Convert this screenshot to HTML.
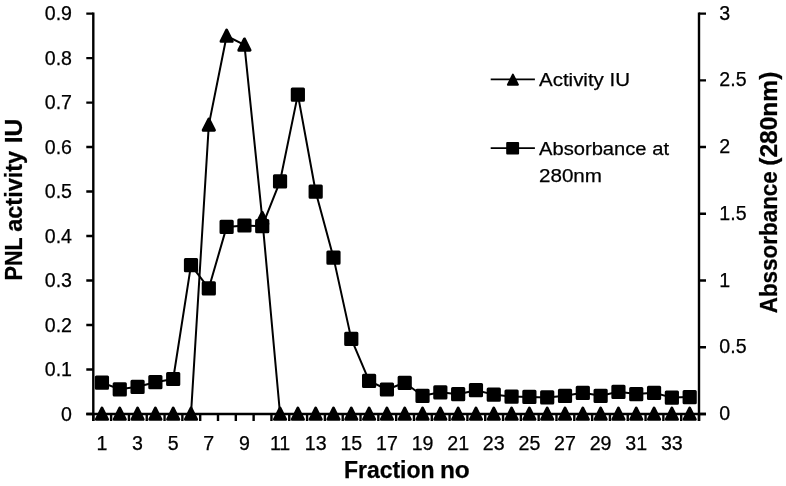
<!DOCTYPE html>
<html lang="en"><head><meta charset="utf-8"><title>Fraction elution profile</title>
<style>html,body{margin:0;padding:0;background:#fff;}body{width:786px;height:486px;overflow:hidden;}svg{display:block;}text{font-family:"Liberation Sans",Arial,sans-serif;fill:#000;stroke:#000;stroke-width:0.25px;}</style></head><body>
<svg width="786" height="486" viewBox="0 0 786 486">
<rect width="786" height="486" fill="#fff"/>
<g stroke="#000" stroke-width="2.4" fill="none" stroke-linecap="butt">
<path d="M93.3 12.4 V421.0"/>
<path d="M699.00 12.4 V421.0"/>
<path d="M86.3 414.0 H706.00"/>
<path d="M86.3 13.60H93.3M86.3 58.09H93.3M86.3 102.58H93.3M86.3 147.07H93.3M86.3 191.56H93.3M86.3 236.04H93.3M86.3 280.53H93.3M86.3 325.02H93.3M86.3 369.51H93.3M86.3 414.00H93.3M699.00 13.60H706.00M699.00 80.33H706.00M699.00 147.07H706.00M699.00 213.80H706.00M699.00 280.53H706.00M699.00 347.27H706.00M699.00 414.00H706.00M93.30 414.0V421.0M111.11 414.0V421.0M128.93 414.0V421.0M146.74 414.0V421.0M164.56 414.0V421.0M182.37 414.0V421.0M200.19 414.0V421.0M218.00 414.0V421.0M235.82 414.0V421.0M253.63 414.0V421.0M271.45 414.0V421.0M289.26 414.0V421.0M307.08 414.0V421.0M324.89 414.0V421.0M342.71 414.0V421.0M360.52 414.0V421.0M378.34 414.0V421.0M396.15 414.0V421.0M413.96 414.0V421.0M431.78 414.0V421.0M449.59 414.0V421.0M467.41 414.0V421.0M485.22 414.0V421.0M503.04 414.0V421.0M520.85 414.0V421.0M538.67 414.0V421.0M556.48 414.0V421.0M574.30 414.0V421.0M592.11 414.0V421.0M609.93 414.0V421.0M627.74 414.0V421.0M645.56 414.0V421.0M663.37 414.0V421.0M681.19 414.0V421.0M699.00 414.0V421.0"/>
</g>
<polyline points="101.95,414.00 119.76,414.00 137.57,414.00 155.38,414.00 173.19,414.00 191.00,414.00 208.81,124.90 226.62,36.00 244.43,44.80 262.24,218.30 280.05,414.00 297.86,414.00 315.67,414.00 333.48,414.00 351.29,414.00 369.10,414.00 386.91,414.00 404.72,414.00 422.53,414.00 440.34,414.00 458.15,414.00 475.96,414.00 493.77,414.00 511.58,414.00 529.39,414.00 547.20,414.00 565.01,414.00 582.82,414.00 600.63,414.00 618.44,414.00 636.25,414.00 654.06,414.00 671.87,414.00 689.68,414.00" fill="none" stroke="#000" stroke-width="2.0" stroke-linejoin="round"/>
<polyline points="101.95,382.60 119.76,389.30 137.57,386.80 155.38,382.20 173.19,379.00 191.00,265.10 208.81,288.30 226.62,226.90 244.43,225.50 262.24,226.10 280.05,181.30 297.86,94.60 315.67,191.70 333.48,257.60 351.29,338.90 369.10,380.80 386.91,389.50 404.72,382.80 422.53,395.80 440.34,392.30 458.15,394.20 475.96,390.20 493.77,394.60 511.58,396.60 529.39,396.90 547.20,397.40 565.01,395.80 582.82,392.80 600.63,395.80 618.44,391.80 636.25,394.10 654.06,392.80 671.87,397.60 689.68,397.10" fill="none" stroke="#000" stroke-width="2.0" stroke-linejoin="round"/>
<g fill="#000" stroke="#000" stroke-width="3" stroke-linejoin="round">
<rect x="96.35" y="377.00" width="11.2" height="11.2"/>
<rect x="114.16" y="383.70" width="11.2" height="11.2"/>
<rect x="131.97" y="381.20" width="11.2" height="11.2"/>
<rect x="149.78" y="376.60" width="11.2" height="11.2"/>
<rect x="167.59" y="373.40" width="11.2" height="11.2"/>
<rect x="185.40" y="259.50" width="11.2" height="11.2"/>
<rect x="203.21" y="282.70" width="11.2" height="11.2"/>
<rect x="221.02" y="221.30" width="11.2" height="11.2"/>
<rect x="238.83" y="219.90" width="11.2" height="11.2"/>
<rect x="256.64" y="220.50" width="11.2" height="11.2"/>
<rect x="274.45" y="175.70" width="11.2" height="11.2"/>
<rect x="292.26" y="89.00" width="11.2" height="11.2"/>
<rect x="310.07" y="186.10" width="11.2" height="11.2"/>
<rect x="327.88" y="252.00" width="11.2" height="11.2"/>
<rect x="345.69" y="333.30" width="11.2" height="11.2"/>
<rect x="363.50" y="375.20" width="11.2" height="11.2"/>
<rect x="381.31" y="383.90" width="11.2" height="11.2"/>
<rect x="399.12" y="377.20" width="11.2" height="11.2"/>
<rect x="416.93" y="390.20" width="11.2" height="11.2"/>
<rect x="434.74" y="386.70" width="11.2" height="11.2"/>
<rect x="452.55" y="388.60" width="11.2" height="11.2"/>
<rect x="470.36" y="384.60" width="11.2" height="11.2"/>
<rect x="488.17" y="389.00" width="11.2" height="11.2"/>
<rect x="505.98" y="391.00" width="11.2" height="11.2"/>
<rect x="523.79" y="391.30" width="11.2" height="11.2"/>
<rect x="541.60" y="391.80" width="11.2" height="11.2"/>
<rect x="559.41" y="390.20" width="11.2" height="11.2"/>
<rect x="577.22" y="387.20" width="11.2" height="11.2"/>
<rect x="595.03" y="390.20" width="11.2" height="11.2"/>
<rect x="612.84" y="386.20" width="11.2" height="11.2"/>
<rect x="630.65" y="388.50" width="11.2" height="11.2"/>
<rect x="648.46" y="387.20" width="11.2" height="11.2"/>
<rect x="666.27" y="392.00" width="11.2" height="11.2"/>
<rect x="684.08" y="391.50" width="11.2" height="11.2"/>
<path d="M101.95 408.15L107.55 419.35H96.35Z"/>
<path d="M119.76 408.15L125.36 419.35H114.16Z"/>
<path d="M137.57 408.15L143.17 419.35H131.97Z"/>
<path d="M155.38 408.15L160.98 419.35H149.78Z"/>
<path d="M173.19 408.15L178.79 419.35H167.59Z"/>
<path d="M191.00 408.15L196.60 419.35H185.40Z"/>
<path d="M208.81 119.05L214.41 130.25H203.21Z"/>
<path d="M226.62 30.15L232.22 41.35H221.02Z"/>
<path d="M244.43 38.95L250.03 50.15H238.83Z"/>
<path d="M262.24 212.45L267.84 223.65H256.64Z"/>
<path d="M280.05 408.15L285.65 419.35H274.45Z"/>
<path d="M297.86 408.15L303.46 419.35H292.26Z"/>
<path d="M315.67 408.15L321.27 419.35H310.07Z"/>
<path d="M333.48 408.15L339.08 419.35H327.88Z"/>
<path d="M351.29 408.15L356.89 419.35H345.69Z"/>
<path d="M369.10 408.15L374.70 419.35H363.50Z"/>
<path d="M386.91 408.15L392.51 419.35H381.31Z"/>
<path d="M404.72 408.15L410.32 419.35H399.12Z"/>
<path d="M422.53 408.15L428.13 419.35H416.93Z"/>
<path d="M440.34 408.15L445.94 419.35H434.74Z"/>
<path d="M458.15 408.15L463.75 419.35H452.55Z"/>
<path d="M475.96 408.15L481.56 419.35H470.36Z"/>
<path d="M493.77 408.15L499.37 419.35H488.17Z"/>
<path d="M511.58 408.15L517.18 419.35H505.98Z"/>
<path d="M529.39 408.15L534.99 419.35H523.79Z"/>
<path d="M547.20 408.15L552.80 419.35H541.60Z"/>
<path d="M565.01 408.15L570.61 419.35H559.41Z"/>
<path d="M582.82 408.15L588.42 419.35H577.22Z"/>
<path d="M600.63 408.15L606.23 419.35H595.03Z"/>
<path d="M618.44 408.15L624.04 419.35H612.84Z"/>
<path d="M636.25 408.15L641.85 419.35H630.65Z"/>
<path d="M654.06 408.15L659.66 419.35H648.46Z"/>
<path d="M671.87 408.15L677.47 419.35H666.27Z"/>
<path d="M689.68 408.15L695.28 419.35H684.08Z"/>
</g>
<text x="72.0" y="20.35" font-size="19.6" text-anchor="end">0.9</text>
<text x="72.0" y="64.84" font-size="19.6" text-anchor="end">0.8</text>
<text x="72.0" y="109.33" font-size="19.6" text-anchor="end">0.7</text>
<text x="72.0" y="153.82" font-size="19.6" text-anchor="end">0.6</text>
<text x="72.0" y="198.31" font-size="19.6" text-anchor="end">0.5</text>
<text x="72.0" y="242.79" font-size="19.6" text-anchor="end">0.4</text>
<text x="72.0" y="287.28" font-size="19.6" text-anchor="end">0.3</text>
<text x="72.0" y="331.77" font-size="19.6" text-anchor="end">0.2</text>
<text x="72.0" y="376.26" font-size="19.6" text-anchor="end">0.1</text>
<text x="72.0" y="420.75" font-size="19.6" text-anchor="end">0</text>
<text x="719.3" y="19.70" font-size="19.6">3</text>
<text x="719.3" y="86.43" font-size="19.6">2.5</text>
<text x="719.3" y="153.17" font-size="19.6">2</text>
<text x="719.3" y="219.90" font-size="19.6">1.5</text>
<text x="719.3" y="286.63" font-size="19.6">1</text>
<text x="719.3" y="353.37" font-size="19.6">0.5</text>
<text x="719.3" y="420.10" font-size="19.6">0</text>
<text x="101.95" y="450.0" font-size="19.6" text-anchor="middle">1</text>
<text x="137.57" y="450.0" font-size="19.6" text-anchor="middle">3</text>
<text x="173.19" y="450.0" font-size="19.6" text-anchor="middle">5</text>
<text x="208.81" y="450.0" font-size="19.6" text-anchor="middle">7</text>
<text x="244.43" y="450.0" font-size="19.6" text-anchor="middle">9</text>
<text x="280.05" y="450.0" font-size="19.6" text-anchor="middle">11</text>
<text x="315.67" y="450.0" font-size="19.6" text-anchor="middle">13</text>
<text x="351.29" y="450.0" font-size="19.6" text-anchor="middle">15</text>
<text x="386.91" y="450.0" font-size="19.6" text-anchor="middle">17</text>
<text x="422.53" y="450.0" font-size="19.6" text-anchor="middle">19</text>
<text x="458.15" y="450.0" font-size="19.6" text-anchor="middle">21</text>
<text x="493.77" y="450.0" font-size="19.6" text-anchor="middle">23</text>
<text x="529.39" y="450.0" font-size="19.6" text-anchor="middle">25</text>
<text x="565.01" y="450.0" font-size="19.6" text-anchor="middle">27</text>
<text x="600.63" y="450.0" font-size="19.6" text-anchor="middle">29</text>
<text x="636.25" y="450.0" font-size="19.6" text-anchor="middle">31</text>
<text x="671.87" y="450.0" font-size="19.6" text-anchor="middle">33</text>
<text transform="translate(22.2 0) rotate(-90)" y="0" font-size="24" font-weight="bold" stroke="none"><tspan x="-280.40" textLength="42.7" lengthAdjust="spacingAndGlyphs">PNL</tspan> <tspan x="-231.80" textLength="80.9" lengthAdjust="spacingAndGlyphs">activity</tspan> <tspan x="-143.30" textLength="24.7" lengthAdjust="spacingAndGlyphs">IU</tspan></text>
<text transform="translate(776.5 0) rotate(-90)" y="0" font-size="24" font-weight="bold" stroke="none"><tspan x="-313.30" textLength="142.1" lengthAdjust="spacingAndGlyphs">Abssorbance</tspan> <tspan x="-165.80" textLength="94.1" lengthAdjust="spacingAndGlyphs">(280nm)</tspan></text>
<text y="478.2" font-size="24" font-weight="bold" stroke="none"><tspan x="343.9" textLength="90.7" lengthAdjust="spacingAndGlyphs">Fraction</tspan> <tspan x="439.9" textLength="29.9" lengthAdjust="spacingAndGlyphs">no</tspan></text>
<path d="M490.7 79.4H534.9M490.7 148.0H534.9" stroke="#000" stroke-width="1.75" fill="none"/>
<g fill="#000" stroke="#000" stroke-width="2" stroke-linejoin="round">
<path d="M512.9 74.6L517.9 84.7H507.9Z"/>
<rect x="507.2" y="142.9" width="10.9" height="10.5"/>
</g>
<text x="539" y="85.8" font-size="19.1" textLength="91" lengthAdjust="spacingAndGlyphs">Activity IU</text>
<text x="539" y="154.6" font-size="19.1" textLength="130" lengthAdjust="spacingAndGlyphs">Absorbance at</text>
<text x="539" y="181.8" font-size="19.1" textLength="63" lengthAdjust="spacingAndGlyphs">280nm</text>
</svg></body></html>
